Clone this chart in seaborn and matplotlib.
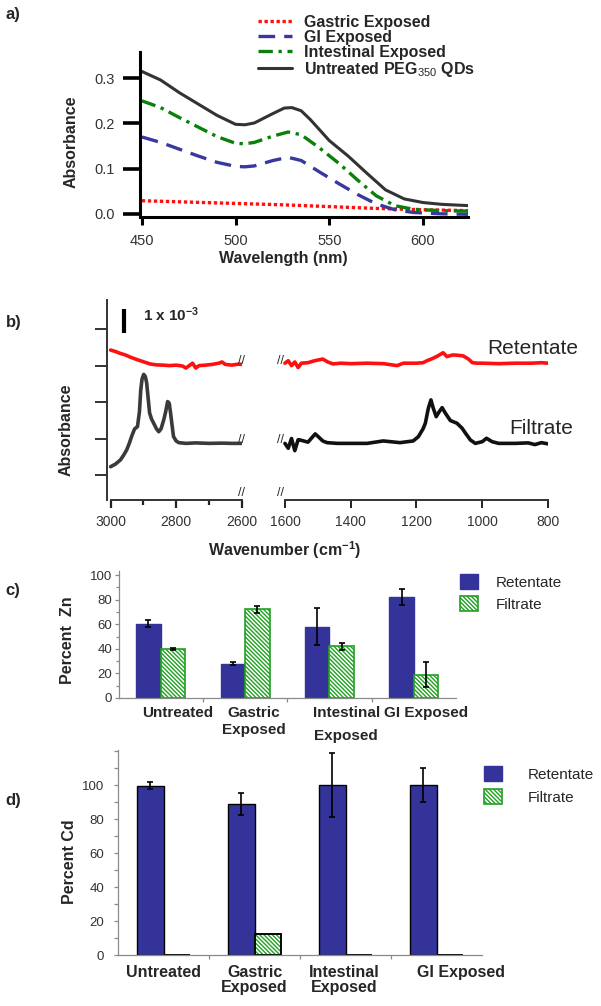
import pandas as pd
import matplotlib
matplotlib.use("Agg")
import matplotlib.pyplot as plt
import seaborn as sns
from matplotlib.patches import Patch, Rectangle
from matplotlib.ticker import MultipleLocator

W, H = 601, 1006

# ---------------- a) UV-vis spectra ----------------
wl_gastric = [450, 475, 500, 525, 550, 575, 600, 625]
abs_gastric = [0.029, 0.026, 0.023, 0.020, 0.016, 0.012, 0.009, 0.007]

wl_gi = [450, 460, 470, 480, 490, 500, 505, 510, 520, 528, 535, 545, 555, 565, 575, 585, 595, 610, 625]
abs_gi = [0.170, 0.158, 0.143, 0.128, 0.114, 0.105, 0.104, 0.106, 0.118, 0.125, 0.118, 0.092, 0.067,
          0.043, 0.022, 0.009, 0.003, 0.000, -0.001]

wl_intestinal = [450, 460, 470, 480, 490, 500, 505, 510, 520, 528, 535, 545, 555, 565, 575, 585, 595, 610, 625]
abs_intestinal = [0.250, 0.235, 0.213, 0.192, 0.171, 0.156, 0.155, 0.158, 0.172, 0.181, 0.175, 0.145,
                  0.112, 0.075, 0.040, 0.018, 0.010, 0.007, 0.006]

wl_untreated = [450, 460, 470, 480, 490, 500, 505, 510, 520, 526, 530, 535, 540, 550, 560, 570, 580,
                590, 600, 610, 625]
abs_untreated = [0.315, 0.296, 0.268, 0.243, 0.218, 0.198, 0.197, 0.201, 0.222, 0.234, 0.235, 0.228,
                 0.208, 0.162, 0.128, 0.090, 0.053, 0.033, 0.025, 0.021, 0.018]

# ---------------- b) IR spectra (units of 1e-3 absorbance, offset) ----------------
ret_left_wn = [3000, 2985, 2970, 2955, 2940, 2920, 2900, 2880, 2860, 2840, 2820, 2800, 2780, 2770,
               2760, 2750, 2740, 2730, 2710, 2690, 2670, 2660, 2650, 2630, 2610, 2600]
ret_left_y = [5.14, 5.08, 5.00, 4.94, 4.85, 4.75, 4.66, 4.57, 4.53, 4.52, 4.50, 4.52, 4.48, 4.40,
              4.50, 4.60, 4.40, 4.50, 4.52, 4.55, 4.60, 4.65, 4.55, 4.52, 4.56, 4.55]

fil_left_wn = [3000, 2985, 2970, 2960, 2951, 2943, 2936, 2927, 2918, 2912, 2908, 2904, 2899, 2894,
               2890, 2885, 2881, 2875, 2869, 2860, 2853, 2846, 2838, 2832, 2826, 2821, 2817, 2812,
               2808, 2800, 2792, 2770, 2740, 2700, 2660, 2630, 2600]
fil_left_y = [0.34, 0.45, 0.62, 0.82, 1.03, 1.30, 1.58, 1.89, 1.99, 2.60, 3.50, 3.95, 4.14, 4.05,
              3.79, 3.10, 2.55, 2.30, 2.14, 1.90, 1.78, 1.90, 2.26, 2.60, 3.02, 2.95, 2.55, 2.00,
              1.58, 1.40, 1.33, 1.30, 1.32, 1.30, 1.31, 1.30, 1.30]

ret_right_wn = [1600, 1590, 1580, 1570, 1560, 1550, 1530, 1510, 1485, 1470, 1454, 1430, 1400, 1350,
                1300, 1259, 1240, 1200, 1180, 1168, 1150, 1135, 1119, 1107, 1095, 1088, 1070, 1058,
                1042, 1030, 1015, 1000, 950, 900, 850, 820, 800]
ret_right_y = [4.60, 4.70, 4.50, 4.65, 4.42, 4.60, 4.62, 4.70, 4.77, 4.65, 4.57, 4.60, 4.58, 4.60,
               4.58, 4.50, 4.60, 4.60, 4.62, 4.70, 4.80, 4.90, 5.03, 4.87, 4.92, 4.94, 4.92, 4.90,
               4.77, 4.62, 4.60, 4.60, 4.58, 4.60, 4.60, 4.62, 4.60]

fil_right_wn = [1600, 1590, 1580, 1570, 1560, 1554, 1530, 1508, 1499, 1485, 1472, 1440, 1400, 1350,
                1301, 1250, 1210, 1194, 1180, 1173, 1164, 1156, 1149, 1140, 1131, 1122, 1112, 1097,
                1077, 1061, 1051, 1036, 1021, 1000, 987, 970, 950, 900, 860, 840, 820, 800]
fil_right_y = [1.30, 1.10, 1.50, 1.00, 1.45, 1.44, 1.35, 1.69, 1.58, 1.40, 1.33, 1.30, 1.30, 1.30,
               1.40, 1.33, 1.40, 1.58, 1.90, 2.13, 2.74, 3.09, 2.75, 2.40, 2.60, 2.77, 2.54, 2.24,
               2.13, 1.92, 1.72, 1.44, 1.30, 1.37, 1.51, 1.37, 1.30, 1.30, 1.32, 1.25, 1.33, 1.28]

# ---------------- c), d) bar charts ----------------
groups = ["Untreated", "Gastric Exposed", "Intestinal Exposed", "GI Exposed"]
zn_retentate = [60.5, 28, 58, 82]
zn_retentate_err = [3, 1.5, 15, 6.5]
zn_filtrate = [40, 72, 42, 19]
zn_filtrate_err = [1, 3, 3, 10]
cd_retentate = [99.5, 89, 100, 100]
cd_retentate_err = [2, 6.5, 19, 10]
cd_filtrate = [0, 12.5, 0, 0]

c_labels = ["Untreated", "Gastric\nExposed", "Intestinal\nExposed", "GI Exposed"]
c_label_pos = [0.2, 1.1, 2.2, 3.14]
d_labels = ["Untreated", "Gastric\nExposed", "Intestinal\nExposed", "GI Exposed"]
d_label_pos = [0.0, 1.0, 1.99, 3.27]

BLUE = "#333399"
GREEN = "#22a022"
HATCH = "\\" * 8

sns.set_style("white")
plt.rcParams["font.family"] = ["Liberation Sans", "DejaVu Sans"]
plt.rcParams["mathtext.fontset"] = "custom"
plt.rcParams["mathtext.rm"] = "Liberation Sans"
plt.rcParams["mathtext.bf"] = "Liberation Sans:bold"
plt.rcParams["mathtext.it"] = "Liberation Sans:italic"
plt.rcParams["hatch.linewidth"] = 1.0
plt.rcParams["xtick.direction"] = "out"
plt.rcParams["ytick.direction"] = "out"


def px_rect(l, t, r, b):
    return [l / W, 1 - b / H, (r - l) / W, (b - t) / H]


fig = plt.figure(figsize=(W / 100, H / 100), dpi=100)


def ftext(x, y, s, **kw):
    kw.setdefault("ha", "center")
    kw.setdefault("va", "center")
    fig.text(x / W, 1 - y / H, s, **kw)


# ======== panel a ========
ax_a = fig.add_axes(px_rect(140, 52, 468, 217))
sns.lineplot(x=wl_gastric, y=abs_gastric, ax=ax_a, color="#ff1010", lw=2.4,
             linestyle=(0, (1, 0.8)), label="Gastric Exposed")
sns.lineplot(x=wl_gi, y=abs_gi, ax=ax_a, color="#3838a0", lw=2.4,
             linestyle=(0, (5, 2.7)), label="GI Exposed")
sns.lineplot(x=wl_intestinal, y=abs_intestinal, ax=ax_a, color="#0a800a", lw=2.4,
             linestyle=(0, (4.3, 1.7, 1, 1.7)), label="Intestinal Exposed")
sns.lineplot(x=wl_untreated, y=abs_untreated, ax=ax_a, color="#333333", lw=2.2,
             label="Untreated PEG$_{350}$ QDs")
ax_a.set_xlim(449, 624)
ax_a.set_ylim(-0.007, 0.358)
ax_a.set_xticks([450, 500, 550, 600])
ax_a.set_yticks([0.0, 0.1, 0.2, 0.3])
ax_a.set_yticklabels(["0.0", "0.1", "0.2", "0.3"])
ax_a.tick_params(axis="x", bottom=True, length=6, width=2.2, color="black", labelsize=10.5,
                 labelcolor="#333333", pad=6)
ax_a.tick_params(axis="y", left=True, length=12, width=2.6, color="black", labelsize=10.5,
                 labelcolor="#333333", pad=6)
for side in ["top", "right"]:
    ax_a.spines[side].set_visible(False)
for side in ["left", "bottom"]:
    ax_a.spines[side].set_linewidth(2.2)
    ax_a.spines[side].set_color("black")
ax_a.set_xlabel("")
ax_a.set_ylabel("")
ax_a.legend(loc="upper left", bbox_to_anchor=(258 / W, 1 - 15 / H), bbox_transform=fig.transFigure,
            frameon=False, borderpad=0, borderaxespad=0, handlelength=2.1, handletextpad=0.75,
            labelspacing=0.0, prop={"weight": "bold", "size": 11.5})
ftext(283, 258, "Wavelength (nm)", fontsize=11.5, fontweight="bold")
ftext(71, 142, "Absorbance", fontsize=11.5, fontweight="bold", rotation=90)
ftext(13, 15, "a)", fontsize=12, fontweight="bold")

# ======== panel b ========
AXIS_DARK = "#333333"
axL = fig.add_axes(px_rect(107, 300, 242, 500))
axR = fig.add_axes(px_rect(281, 300, 548, 500))
for ax in (axL, axR):
    ax.set_facecolor("none")
    ax.set_ylim(-1.03, 7.2)
    for side in ["top", "right"]:
        ax.spines[side].set_visible(False)
    ax.spines["bottom"].set_color(AXIS_DARK)
    ax.spines["bottom"].set_linewidth(1.4)

sns.lineplot(x=ret_left_wn, y=ret_left_y, ax=axL, color="#ff1010", lw=2.6)
sns.lineplot(x=fil_left_wn, y=fil_left_y, ax=axL, color="#3a3a3a", lw=2.6)
sns.lineplot(x=ret_right_wn, y=ret_right_y, ax=axR, color="#ff1010", lw=2.6)
sns.lineplot(x=fil_right_wn, y=fil_right_y, ax=axR, color="#111111", lw=2.6)

axL.set_xlim(3011, 2599)
axL.spines["bottom"].set_bounds(3000, 2600)
axL.set_xticks([3000, 2800, 2600])
axL.xaxis.set_minor_locator(MultipleLocator(100))
axL.set_yticks([0, 1.5, 3, 4.5, 6])
axL.set_yticklabels([])
axL.spines["left"].set_color(AXIS_DARK)
axL.spines["left"].set_linewidth(1.4)
axL.tick_params(axis="y", left=True, length=8.5, width=1.4, color=AXIS_DARK)
axL.tick_params(axis="x", which="major", bottom=True, length=6, width=1.6, color="#222222",
                labelsize=10, labelcolor="#333333", pad=5)
axL.tick_params(axis="x", which="minor", bottom=True, length=3.5, width=1.6, color="#222222")

axR.set_xlim(1612, 800)
axR.spines["bottom"].set_bounds(1600, 800)
axR.spines["left"].set_visible(False)
axR.set_yticks([])
axR.set_xticks([1600, 1400, 1200, 1000, 800])
axR.tick_params(axis="x", bottom=True, length=6, width=1.4, color="#222222", labelsize=10,
                labelcolor="#333333", pad=5)
for ax in (axL, axR):
    ax.set_xlabel("")
    ax.set_ylabel("")

# axis break marks
axL.text(2600, 4.7, "//", fontsize=9, ha="center", va="center")
axL.text(2600, 1.45, "//", fontsize=9, ha="center", va="center")
axL.text(2600, 0.005, "//", fontsize=9, ha="center", va="bottom", transform=axL.get_xaxis_transform())
axR.text(1614, 4.7, "//", fontsize=9, ha="center", va="center")
axR.text(1614, 1.45, "//", fontsize=9, ha="center", va="center")
axR.text(1614, 0.005, "//", fontsize=9, ha="center", va="bottom", transform=axR.get_xaxis_transform())

# scale bar
axL.plot([2960, 2960], [5.84, 6.83], color="black", lw=3, solid_capstyle="butt")
ftext(143, 315, "1 x 10$^{\\mathbf{-3}}$", fontsize=11, fontweight="bold", ha="left")

axR.text(847, 5.2, "Retentate", fontsize=15, ha="center", va="center")
axR.text(820, 1.93, "Filtrate", fontsize=15, ha="center", va="center")
ftext(285, 550, "Wavenumber (cm$^{\\mathbf{-1}}$)", fontsize=11.5, fontweight="bold")
ftext(66, 430, "Absorbance", fontsize=11.5, fontweight="bold", rotation=90)
ftext(14, 322, "b)", fontsize=12, fontweight="bold")


# ======== panels c and d ========
def bar_panel(ax, ret, ret_err, fil, fil_err, ylim, black_edges):
    df = pd.DataFrame({
        "group": groups * 2,
        "fraction": ["Retentate"] * 4 + ["Filtrate"] * 4,
        "value": ret + fil,
    })
    sns.barplot(data=df, x="group", y="value", hue="fraction", hue_order=["Retentate", "Filtrate"],
                palette={"Retentate": BLUE, "Filtrate": "white"}, saturation=1, width=0.58,
                errorbar=None, legend=False, ax=ax)
    ret_bars, fil_bars = ax.containers[0], ax.containers[1]
    for p in ret_bars:
        p.set_edgecolor("black" if black_edges else BLUE)
        p.set_linewidth(1.0)
    for p in fil_bars:
        p.set_hatch(HATCH)
        p.set_edgecolor(GREEN)
        p.set_linewidth(1.2)
        if black_edges:
            ax.add_patch(Rectangle(p.get_xy(), p.get_width(), p.get_height(), fill=False,
                                   edgecolor="black", lw=1.3, zorder=p.get_zorder() + 0.1))
    for bars, vals, errs in ((ret_bars, ret, ret_err), (fil_bars, fil, fil_err)):
        if errs is None:
            continue
        xs = [p.get_x() + p.get_width() / 2 for p in bars]
        ax.errorbar(xs, vals, yerr=errs, fmt="none", ecolor="black", elinewidth=1.2,
                    capsize=2.5, capthick=1.2, zorder=5)
    ax.set_xlim(-0.5, 3.5)
    ax.set_ylim(*ylim)
    ax.set_xlabel("")
    ax.set_ylabel("")
    for side in ["top", "right"]:
        ax.spines[side].set_visible(False)
    for side in ["left", "bottom"]:
        ax.spines[side].set_color("#8a8a8a")
        ax.spines[side].set_linewidth(0.9)
    ax.yaxis.set_minor_locator(MultipleLocator(10))
    ax.set_xticks([0.5, 1.5, 2.5])
    ax.set_xticklabels([])
    ax.tick_params(axis="x", which="major", bottom=True, length=3, width=0.9, color="#8a8a8a")
    ax.tick_params(axis="x", which="minor", length=0)


ax_c = fig.add_axes(px_rect(118.5, 571, 456, 698))
bar_panel(ax_c, zn_retentate, zn_retentate_err, zn_filtrate, zn_filtrate_err, (0, 103.3), False)
ax_c.set_yticks([0, 20, 40, 60, 80, 100])
ax_c.tick_params(axis="y", which="major", left=True, length=3, width=0.9, color="#8a8a8a",
                 labelsize=9.5, labelcolor="#333333", pad=1.5)
ax_c.tick_params(axis="y", which="minor", left=True, length=2.5, width=0.9, color="#8a8a8a")
ax_c.set_xticks(c_label_pos, c_labels, minor=True)
ax_c.tick_params(axis="x", which="minor", labelsize=11, pad=6)
for t in ax_c.get_xticklabels(minor=True):
    t.set_fontweight("bold")
    t.set_va("top")
ax_c.get_xticklabels(minor=True)[2].set_linespacing(1.75)
ax_c.legend(handles=[Patch(facecolor=BLUE, edgecolor=BLUE),
                     Patch(facecolor="white", edgecolor=GREEN, hatch=HATCH, lw=1.2)],
            labels=["Retentate", "Filtrate"], loc="upper left",
            bbox_to_anchor=(460 / W, 1 - 574 / H), bbox_transform=fig.transFigure,
            frameon=False, borderpad=0, borderaxespad=0, handlelength=1.15, handleheight=1.15,
            handletextpad=1.2, labelspacing=0.42, fontsize=11)
ftext(67, 640, "Percent  Zn", fontsize=11.5, fontweight="bold", rotation=90)
ftext(13, 590, "c)", fontsize=12, fontweight="bold")

ax_d = fig.add_axes(px_rect(118, 750, 482, 955))
bar_panel(ax_d, cd_retentate, cd_retentate_err, cd_filtrate, None, (0, 120.6), True)
ax_d.set_yticks([0, 20, 40, 60, 80, 100])
ax_d.tick_params(axis="y", which="major", left=True, length=3, width=0.9, color="#8a8a8a",
                 labelsize=9.5, labelcolor="#333333", pad=7)
ax_d.tick_params(axis="y", which="minor", left=True, length=3, width=0.9, color="#8a8a8a")
ax_d.set_xticks(d_label_pos, d_labels, minor=True)
ax_d.tick_params(axis="x", which="minor", labelsize=11.5, pad=7)
for t in ax_d.get_xticklabels(minor=True):
    t.set_fontweight("bold")
    t.set_linespacing(1.0)
ax_d.legend(handles=[Patch(facecolor=BLUE, edgecolor=BLUE),
                     Patch(facecolor="white", edgecolor=GREEN, hatch=HATCH, lw=1.2)],
            labels=["Retentate", "Filtrate"], loc="upper left",
            bbox_to_anchor=(484 / W, 1 - 766 / H), bbox_transform=fig.transFigure,
            frameon=False, borderpad=0, borderaxespad=0, handlelength=1.15, handleheight=1.15,
            handletextpad=1.7, labelspacing=0.49, fontsize=11)
ftext(69, 862, "Percent Cd", fontsize=11.5, fontweight="bold", rotation=90)
ftext(13, 801, "d)", fontsize=12, fontweight="bold")

fig.savefig("out.png", dpi=100)
